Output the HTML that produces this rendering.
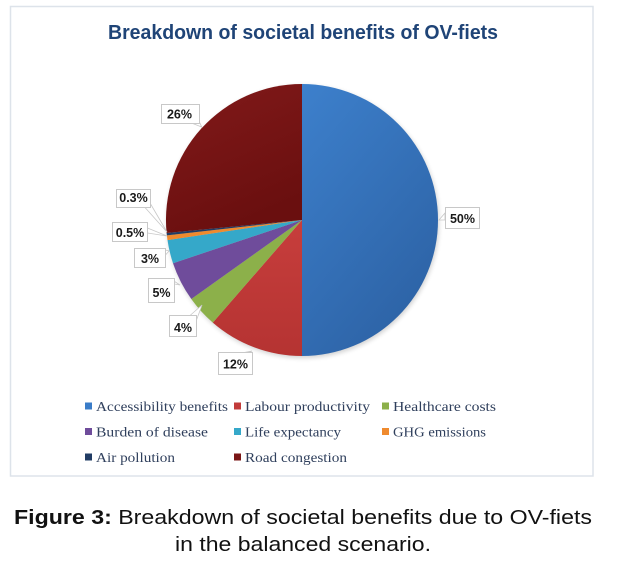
<!DOCTYPE html>
<html>
<head>
<meta charset="utf-8">
<style>
  html,body{margin:0;padding:0;background:#fff;}
  svg{display:block;}
</style>
</head>
<body>
<svg width="622" height="569" viewBox="0 0 622 569" xmlns="http://www.w3.org/2000/svg">
  <defs>
    <linearGradient id="gBlue" x1="0" y1="0" x2="0.6" y2="1">
      <stop offset="0" stop-color="#3d80cc"/>
      <stop offset="1" stop-color="#2d63a6"/>
    </linearGradient>
    <linearGradient id="gDark" x1="0" y1="0" x2="0.4" y2="1">
      <stop offset="0" stop-color="#821a1a"/>
      <stop offset="1" stop-color="#6a0f0f"/>
    </linearGradient>
    <linearGradient id="gRed" x1="0" y1="0" x2="0" y2="1">
      <stop offset="0" stop-color="#c73e3c"/>
      <stop offset="1" stop-color="#b53332"/>
    </linearGradient>
    <filter id="sh" x="-20%" y="-20%" width="140%" height="140%">
      <feGaussianBlur stdDeviation="2.5"/>
    </filter>
  </defs>

  <!-- chart box -->
  <rect x="10.5" y="6.5" width="582.5" height="469.5" fill="#fff" stroke="#dde3ea" stroke-width="1.5"/>

  <!-- title -->
  <text x="108" y="39" textLength="390" lengthAdjust="spacingAndGlyphs" font-family="Liberation Sans, Arial, sans-serif" font-weight="bold" font-size="20" fill="#1f4477">Breakdown of societal benefits of OV-fiets</text>

  <!-- pie shadow -->
  <circle cx="303" cy="222" r="136" fill="#000" opacity="0.18" filter="url(#sh)"/>

  <!-- pie slices -->
  <path d="M302,220 L302,84 A136,136 0 0 1 302,356 Z" fill="url(#gBlue)"/>
  <path d="M302,220 L302,356 A136,136 0 0 1 212.8,322.6 Z" fill="url(#gRed)"/>
  <path d="M302,220 L212.8,322.6 A136,136 0 0 1 191.3,299.0 Z" fill="#8cb04a"/>
  <path d="M302,220 L191.3,299.0 A136,136 0 0 1 173.0,263.2 Z" fill="#6f4c9b"/>
  <path d="M302,220 L173.0,263.2 A136,136 0 0 1 167.5,240.1 Z" fill="#35a8c9"/>
  <path d="M302,220 L167.5,240.1 A136,136 0 0 1 166.9,235.4 Z" fill="#ef8a2e"/>
  <path d="M302,220 L166.9,235.4 A136,136 0 0 1 166.6,233.0 Z" fill="#213c64"/>
  <path d="M302,220 L166.6,233.0 A136,136 0 0 1 302,84 Z" fill="url(#gDark)"/>

  <!-- data label callouts -->
  <g font-family="Liberation Sans, Arial, sans-serif" font-weight="bold" font-size="12.5" fill="#1a1a1a" text-anchor="middle">
    <polygon points="445,213 439,220 445,220" fill="#fff" stroke="#c8c8c8" stroke-width="0.8"/>
    <rect x="445.5" y="207.5" width="34" height="21" fill="#fff" stroke="#c8c8c8" stroke-width="1"/>
    <text x="462.5" y="223">50%</text>

    <polygon points="194,124 201.7,127 199,121" fill="#fff" stroke="#c8c8c8" stroke-width="0.8"/>
    <rect x="161.5" y="104.5" width="38" height="19" fill="#fff" stroke="#c8c8c8" stroke-width="1"/>
    <text x="179.5" y="118.5">26%</text>

    <polyline points="145,207.5 167,232 150,203" fill="#fff" stroke="#c8c8c8" stroke-width="0.8"/>
    <rect x="116.5" y="189.5" width="34" height="18" fill="#fff" stroke="#c8c8c8" stroke-width="1"/>
    <text x="133.5" y="202">0.3%</text>

    <polyline points="147.5,228 167,236 147.5,233" fill="#fff" stroke="#c8c8c8" stroke-width="0.8"/>
    <rect x="112.5" y="222.5" width="35" height="19" fill="#fff" stroke="#c8c8c8" stroke-width="1"/>
    <text x="130" y="237">0.5%</text>

    <polyline points="160,248.5 169,251 165.5,255" fill="#fff" stroke="#c8c8c8" stroke-width="0.8"/>
    <rect x="134.5" y="248.5" width="31" height="19" fill="#fff" stroke="#c8c8c8" stroke-width="1"/>
    <text x="150" y="263">3%</text>

    <polyline points="170,278.5 180,285 174.5,284" fill="#fff" stroke="#c8c8c8" stroke-width="0.8"/>
    <rect x="148.5" y="278.5" width="26" height="24" fill="#fff" stroke="#c8c8c8" stroke-width="1"/>
    <text x="161.5" y="297">5%</text>

    <polyline points="190,315.5 202,305 196.5,320" fill="#fff" stroke="#c8c8c8" stroke-width="0.8"/>
    <rect x="169.5" y="315.5" width="27" height="21" fill="#fff" stroke="#c8c8c8" stroke-width="1"/>
    <text x="183" y="332">4%</text>

    <polyline points="244,352.5 252,351 249,352.5" fill="#fff" stroke="#c8c8c8" stroke-width="0.8"/>
    <rect x="218.5" y="352.5" width="34" height="22" fill="#fff" stroke="#c8c8c8" stroke-width="1"/>
    <text x="235.5" y="368.5">12%</text>
  </g>

  <!-- legend -->
  <g font-family="Liberation Serif, 'DejaVu Serif', serif" font-size="14" fill="#2f3f5c">
    <rect x="85" y="402.5" width="7" height="7" fill="#3a7cc8"/>
    <text x="96" y="411" textLength="132" lengthAdjust="spacingAndGlyphs">Accessibility benefits</text>
    <rect x="234" y="402.5" width="7" height="7" fill="#c23b3a"/>
    <text x="245" y="411" textLength="125" lengthAdjust="spacingAndGlyphs">Labour productivity</text>
    <rect x="382" y="402.5" width="7" height="7" fill="#8cb04a"/>
    <text x="393" y="411" textLength="103" lengthAdjust="spacingAndGlyphs">Healthcare costs</text>

    <rect x="85" y="428" width="7" height="7" fill="#6f4c9b"/>
    <text x="96" y="436.5" textLength="112" lengthAdjust="spacingAndGlyphs">Burden of disease</text>
    <rect x="234" y="428" width="7" height="7" fill="#35a8c9"/>
    <text x="245" y="436.5" textLength="96" lengthAdjust="spacingAndGlyphs">Life expectancy</text>
    <rect x="382" y="428" width="7" height="7" fill="#ef8a2e"/>
    <text x="393" y="436.5" textLength="93" lengthAdjust="spacingAndGlyphs">GHG emissions</text>

    <rect x="85" y="453.5" width="7" height="7" fill="#213c64"/>
    <text x="96" y="462" textLength="79" lengthAdjust="spacingAndGlyphs">Air pollution</text>
    <rect x="234" y="453.5" width="7" height="7" fill="#7a1616"/>
    <text x="245" y="462" textLength="102" lengthAdjust="spacingAndGlyphs">Road congestion</text>
  </g>

  <!-- caption -->
  <g font-family="Liberation Sans, Arial, sans-serif" font-size="20" fill="#111">
    <text x="14" y="524" textLength="578" lengthAdjust="spacingAndGlyphs"><tspan font-weight="bold">Figure 3:</tspan> Breakdown of societal benefits due to OV-fiets</text>
    <text x="175" y="551" textLength="256" lengthAdjust="spacingAndGlyphs">in the balanced scenario.</text>
  </g>
</svg>
</body>
</html>
